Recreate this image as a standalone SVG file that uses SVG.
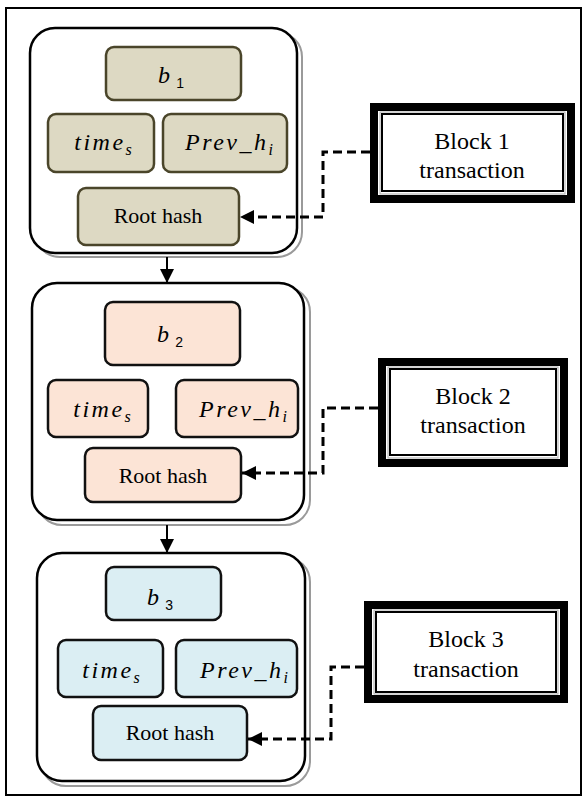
<svg xmlns="http://www.w3.org/2000/svg" width="587" height="797" viewBox="0 0 587 797">
  <style>
    .frame { fill: #fff; stroke: #000; stroke-width: 2; }
    .shell { fill: #fff; stroke: #000; stroke-width: 2.5; }
    .shell-shadow { fill: none; stroke: #9a9a9a; stroke-width: 2; }
    .f1 { fill: #ddd9c3; stroke: #4a452a; stroke-width: 2.5; }
    .f2 { fill: #fce4d6; stroke: #111; stroke-width: 2.5; }
    .f3 { fill: #dbeef3; stroke: #111; stroke-width: 2.5; }
    .math { font-family: "Liberation Serif", "Times New Roman", serif; font-style: italic; font-size: 24px; letter-spacing: 2.5px; fill: #000; }
    .sub { font-size: 16px; letter-spacing: 0; }
    .subn { font-family: "Liberation Sans", Arial, sans-serif; font-style: normal; font-size: 14px; letter-spacing: 0; }
    .lbl { font-family: "Liberation Serif", "Times New Roman", serif; font-size: 22px; fill: #000; }
    .blk { font-family: "Liberation Serif", "Times New Roman", serif; font-size: 24px; fill: #000; }
    .thick { fill: #fff; stroke: #000; stroke-width: 8; }
    .thin { fill: none; stroke: #000; stroke-width: 2; }
    .thin-gray { fill: none; stroke: #aaa; stroke-width: 1; }
    .dash { fill: none; stroke: #000; stroke-width: 3; stroke-dasharray: 9 5; }
    .link { fill: none; stroke: #000; stroke-width: 2; }
  </style>
  <defs>
    <marker id="head" markerUnits="userSpaceOnUse" markerWidth="14" markerHeight="14" viewBox="0 0 14 14" refX="14" refY="7" orient="auto">
      <path d="M0,0 L14,7 L0,14 Z" fill="#000"/>
    </marker>
  </defs>

  <!-- page frame -->
  <rect class="frame" x="6" y="8" width="575" height="787"/>

  <!-- block 1 -->
  <g id="block1">
    <rect class="shell-shadow" x="35" y="32" width="267" height="225" rx="25"/>
    <rect class="shell" x="30" y="28" width="267" height="225" rx="25"/>
    <rect class="f1" x="106" y="47" width="135" height="53" rx="8"/>
    <text class="math" x="171" y="83" text-anchor="middle">b<tspan class="subn" dy="5"> 1</tspan></text>
    <rect class="f1" x="48" y="114" width="106" height="58" rx="8"/>
    <text class="math" x="103" y="150" text-anchor="middle">time<tspan class="sub" dy="5">s</tspan></text>
    <rect class="f1" x="163" y="114" width="124" height="58" rx="8"/>
    <text class="math" x="229" y="150" text-anchor="middle">Prev_h<tspan class="sub" dy="5">i</tspan></text>
    <rect class="f1" x="78" y="188" width="161" height="57" rx="8"/>
    <text class="lbl" x="158" y="223" text-anchor="middle">Root hash</text>
  </g>

  <!-- block 2 -->
  <g id="block2">
    <rect class="shell-shadow" x="37" y="287" width="273" height="238" rx="25"/>
    <rect class="shell" x="32" y="283" width="272" height="237" rx="25"/>
    <rect class="f2" x="105" y="302" width="135" height="63" rx="8"/>
    <text class="math" x="170" y="342" text-anchor="middle">b<tspan class="subn" dy="5"> 2</tspan></text>
    <rect class="f2" x="48" y="380" width="100" height="57" rx="8"/>
    <text class="math" x="102" y="417" text-anchor="middle">time<tspan class="sub" dy="5">s</tspan></text>
    <rect class="f2" x="176" y="380" width="122" height="57" rx="8"/>
    <text class="math" x="243" y="417" text-anchor="middle">Prev_h<tspan class="sub" dy="5">i</tspan></text>
    <rect class="f2" x="85" y="448" width="156" height="54" rx="8"/>
    <text class="lbl" x="163" y="483" text-anchor="middle">Root hash</text>
  </g>

  <!-- block 3 -->
  <g id="block3">
    <rect class="shell-shadow" x="41" y="557" width="269" height="229" rx="25"/>
    <rect class="shell" x="37" y="553" width="268" height="228" rx="25"/>
    <rect class="f3" x="106" y="567" width="115" height="53" rx="8"/>
    <text class="math" x="160" y="605" text-anchor="middle">b<tspan class="subn" dy="5"> 3</tspan></text>
    <rect class="f3" x="58" y="640" width="105" height="57" rx="8"/>
    <text class="math" x="111" y="678" text-anchor="middle">time<tspan class="sub" dy="5">s</tspan></text>
    <rect class="f3" x="176" y="640" width="121" height="57" rx="8"/>
    <text class="math" x="244" y="678" text-anchor="middle">Prev_h<tspan class="sub" dy="5">i</tspan></text>
    <rect class="f3" x="93" y="706" width="154" height="54" rx="8"/>
    <text class="lbl" x="170" y="740" text-anchor="middle">Root hash</text>
  </g>

  <!-- transaction sources -->
  <g id="tx1">
    <rect class="thick" x="374" y="107" width="197" height="92"/>
    <rect class="thin-gray" x="380" y="112" width="185" height="82"/>
    <rect class="thin" x="382" y="114" width="181" height="77"/>
    <text class="blk" x="472" y="149" text-anchor="middle">Block 1</text>
    <text class="blk" x="472" y="178" text-anchor="middle">transaction</text>
  </g>
  <g id="tx2">
    <rect class="thick" x="382" y="362" width="182" height="101"/>
    <rect class="thin-gray" x="388" y="367" width="170" height="91"/>
    <rect class="thin" x="390" y="369" width="166" height="86"/>
    <text class="blk" x="473" y="404" text-anchor="middle">Block 2</text>
    <text class="blk" x="473" y="433" text-anchor="middle">transaction</text>
  </g>
  <g id="tx3">
    <rect class="thick" x="368" y="605" width="196" height="94"/>
    <rect class="thin-gray" x="374" y="610" width="184" height="84"/>
    <rect class="thin" x="376" y="612" width="180" height="80"/>
    <text class="blk" x="466" y="647" text-anchor="middle">Block 3</text>
    <text class="blk" x="466" y="677" text-anchor="middle">transaction</text>
  </g>

  <!-- connectors -->
  <g id="connectors">
    <path class="link" d="M167,257 V283" marker-end="url(#head)"/>
    <path class="link" d="M167,525 V553" marker-end="url(#head)"/>
    <path class="dash" d="M370,152 H323 V217 H240" marker-end="url(#head)"/>
    <path class="dash" d="M378,408 H323 V473 H242" marker-end="url(#head)"/>
    <path class="dash" d="M364,667 H331 V739 H248" marker-end="url(#head)"/>
  </g>
</svg>
